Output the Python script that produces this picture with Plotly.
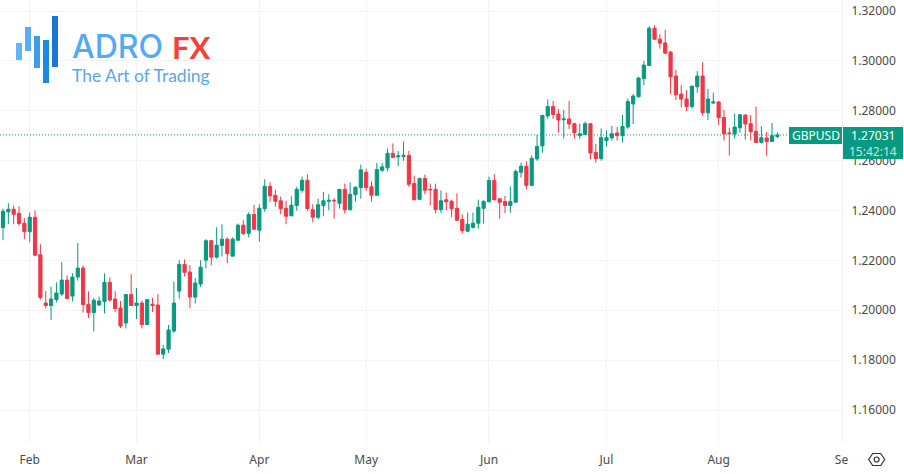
import pandas as pd
import plotly.graph_objects as go

dates = pd.bdate_range("2023-01-25", periods=146)

opens = [
1.2332,1.2395,1.2405,1.2389,1.2349,1.2315,1.2373,1.2223,1.2029,1.2019,1.2043,1.2065,1.2121,1.2057,1.2133,1.2169,1.2024,1.1991,1.2021,1.2035,
1.2112,1.2045,1.2009,1.1949,1.2063,1.2019,1.2029,1.1943,1.2024,1.2021,1.1824,1.1844,1.1917,1.2077,1.2184,1.2153,1.2053,1.2105,1.2201,1.2279,
1.2213,1.2260,1.2285,1.2217,1.2281,1.2341,1.2308,1.2384,1.2321,
1.2407,1.2497,1.2461,1.2439,1.2409,1.2379,1.2420,1.2481,1.2521,1.2403,1.2373,1.2420,1.2437,1.2441,1.2429,1.2485,1.2403,1.2463,1.2492,1.2553,
1.2495,1.2461,1.2561,1.2571,1.2629,1.2615,1.2617,1.2621,1.2508,1.2445,1.2528,1.2485,1.2485,1.2404,1.2443,1.2437,1.2409,1.2364,1.2317,1.2332,
1.2349,1.2409,1.2435,1.2521,1.2447,1.2436,1.2420,1.2433,1.2553,1.2577,1.2501,1.2607,
1.2659,1.2779,1.2817,1.2787,1.2764,1.2767,1.2748,1.2700,1.2705,1.2748,1.2633,1.2608,1.2680,1.2691,1.2711,1.2700,1.2735,1.2827,1.2856,1.2929,
1.2981,1.3131,1.3087,1.3072,1.3035,1.2939,1.2867,1.2847,1.2817,1.2896,1.2939,1.2792,1.2831,1.2835,1.2773,1.2711,1.2707,1.2732,1.2783,1.2748,
1.2717,1.2673,1.2691,1.2677,1.2697]
highs = [
1.2408,1.2429,1.2420,1.2417,1.2369,1.2392,1.2400,1.2265,1.2077,1.2095,1.2112,1.2193,1.2140,1.2149,1.2269,1.2180,1.2076,1.2049,1.2055,1.2148,
1.2132,1.2076,1.2037,1.2064,1.2145,1.2089,1.2039,1.2045,1.2049,1.2065,1.1861,1.1941,1.2115,1.2201,1.2204,1.2181,1.2129,1.2201,1.2285,1.2281,
1.2333,1.2345,1.2292,1.2292,1.2348,1.2361,1.2393,1.2423,1.2425,
1.2525,1.2513,1.2484,1.2456,1.2440,1.2457,1.2495,1.2536,1.2545,1.2425,1.2448,1.2475,1.2465,1.2449,1.2485,1.2508,1.2513,1.2497,1.2584,1.2567,
1.2517,1.2591,1.2591,1.2648,1.2669,1.2639,1.2677,1.2639,1.2540,1.2532,1.2544,1.2508,1.2508,1.2481,1.2472,1.2443,1.2469,1.2384,1.2392,1.2391,
1.2444,1.2441,1.2536,1.2545,1.2448,1.2459,1.2497,1.2564,1.2592,1.2597,1.2621,1.2703,
1.2784,1.2846,1.2839,1.2807,1.2803,1.2840,1.2752,1.2748,1.2757,1.2749,1.2667,1.2729,1.2721,1.2739,1.2735,1.2783,1.2849,1.2867,1.2936,1.3000,
1.3139,1.3143,1.3107,1.3125,1.3040,1.2964,1.2903,1.2883,1.2900,1.2959,1.2995,1.2887,1.2873,1.2839,1.2803,1.2732,1.2789,1.2787,1.2785,1.2783,
1.2817,1.2739,1.2715,1.2751,1.2713]
lows = [
1.2281,1.2345,1.2345,1.2339,1.2285,1.2273,1.2217,1.2043,1.2007,1.1961,1.2031,1.2057,1.2045,1.2035,1.2119,1.1991,1.1969,1.1915,1.2017,1.1987,
1.2035,1.1993,1.1929,1.1927,1.2017,1.1965,1.1927,1.1941,1.1993,1.1823,1.1804,1.1829,1.1909,1.2047,1.2135,1.2009,1.2027,1.2093,1.2168,1.2181,
1.2207,1.2216,1.2189,1.2217,1.2279,1.2301,1.2292,1.2324,1.2275,
1.2395,1.2435,1.2415,1.2385,1.2345,1.2377,1.2399,1.2471,1.2399,1.2353,1.2364,1.2377,1.2401,1.2367,1.2408,1.2387,1.2401,1.2436,1.2447,1.2479,
1.2436,1.2460,1.2555,1.2557,1.2612,1.2577,1.2599,1.2495,1.2441,1.2441,1.2465,1.2420,1.2389,1.2391,1.2401,1.2373,1.2359,1.2308,1.2315,1.2328,
1.2327,1.2347,1.2433,1.2441,1.2367,1.2389,1.2391,1.2431,1.2532,1.2485,1.2497,1.2599,
1.2632,1.2768,1.2768,1.2712,1.2689,1.2727,1.2688,1.2687,1.2704,1.2605,1.2592,1.2600,1.2656,1.2680,1.2681,1.2673,1.2728,1.2747,1.2853,1.2903,
1.2980,1.3085,1.3049,1.3027,1.2868,1.2843,1.2813,1.2799,1.2808,1.2872,1.2780,1.2763,1.2827,1.2743,1.2680,1.2620,1.2688,1.2712,1.2684,1.2681,
1.2671,1.2669,1.2619,1.2675,1.2690]
closes = [
1.2397,1.2405,1.2385,1.2348,1.2315,1.2373,1.2221,1.2051,1.2019,1.2045,1.2069,1.2121,1.2047,1.2133,1.2169,1.2023,1.1991,1.2040,1.2037,1.2112,
1.2041,1.2007,1.1937,1.2063,1.2019,1.2029,1.1943,1.2043,1.2019,1.1824,1.1845,1.1921,1.2029,1.2184,1.2152,1.2053,1.2109,1.2173,1.2279,1.2213,
1.2261,1.2285,1.2227,1.2285,1.2341,1.2308,1.2384,1.2325,1.2409,
1.2497,1.2459,1.2437,1.2407,1.2377,1.2421,1.2485,1.2521,1.2408,1.2373,1.2423,1.2439,1.2441,1.2439,1.2485,1.2403,1.2465,1.2493,1.2563,1.2492,
1.2461,1.2564,1.2575,1.2629,1.2613,1.2619,1.2621,1.2505,1.2443,1.2528,1.2481,1.2483,1.2404,1.2439,1.2435,1.2407,1.2361,1.2319,1.2345,1.2349,
1.2413,1.2436,1.2520,1.2443,1.2433,1.2420,1.2436,1.2557,1.2577,1.2501,1.2609,1.2657,
1.2781,1.2817,1.2785,1.2763,1.2767,1.2747,1.2712,1.2708,1.2748,1.2631,1.2608,1.2692,1.2692,1.2708,1.2700,1.2737,1.2837,1.2859,1.2931,1.2983,
1.3131,1.3087,1.3071,1.3031,1.2936,1.2864,1.2847,1.2817,1.2899,1.2939,1.2792,1.2847,1.2835,1.2772,1.2707,1.2708,1.2735,1.2784,1.2747,1.2716,
1.2673,1.2692,1.2677,1.2700,1.27031]

month_ticks = ["2023-02-01", "2023-03-01", "2023-04-03", "2023-05-01", "2023-06-01", "2023-07-03", "2023-08-01", "2023-09-01"]
month_labels = ["Feb", "Mar", "Apr", "May", "Jun", "Jul", "Aug", "Se"]
last_price = 1.27031
symbol = "GBPUSD"
countdown = "15:42:14"

UP = "#089981"
DOWN = "#F23645"
W, H = 904, 474
PW, PH = 842, 443


def px(x):
    return x / PW


def py(y):
    return 1 - y / PH


def rect(x0, y0, x1, y1, color):
    return dict(type="rect", xref="paper", yref="paper", x0=px(x0), x1=px(x1),
                y0=py(y0), y1=py(y1), fillcolor=color, line_width=0, layer="above")


def label(x, y, text, size, color, family="Noto Sans", anchor="left", weight=400):
    return dict(xref="paper", yref="paper", x=px(x), y=py(y), text=text, showarrow=False,
                xanchor=anchor, yanchor="middle", align=anchor, borderpad=0,
                font=dict(size=size, color=color, family=family, weight=weight))


fig = go.Figure(go.Candlestick(
    x=dates, open=opens, high=highs, low=lows, close=closes, whiskerwidth=0,
    increasing=dict(line=dict(color=UP, width=1), fillcolor=UP),
    decreasing=dict(line=dict(color=DOWN, width=1), fillcolor=DOWN),
    showlegend=False,
))

hex_pts = [(868.7, 459.5), (872.7, 453.5), (880.7, 453.5), (884.7, 459.5), (880.7, 465.5), (872.7, 465.5)]
hex_path = "M " + " L ".join(f"{px(a)},{py(b)}" for a, b in hex_pts) + " Z"

shapes = [
    dict(type="line", xref="paper", yref="y", x0=0, x1=1, y0=last_price, y1=last_price,
         line=dict(color=UP, width=1, dash="1px,2px")),
    rect(16, 43, 22, 60, "#64B5F6"),
    rect(25, 27, 31, 51, "#5AADF4"),
    rect(34, 36, 40, 68, "#3D9BF0"),
    rect(43, 40, 49, 83, "#1E88E5"),
    rect(52, 16, 58, 67, "#1976D2"),
    rect(789, 127, 842, 144, UP),
    rect(843, 127, 903, 159, UP),
    dict(type="path", xref="paper", yref="paper", path=hex_path,
         line=dict(color="#333333", width=1.2), fillcolor="rgba(0,0,0,0)"),
    dict(type="circle", xref="paper", yref="paper", x0=px(874.2), x1=px(879.2),
         y0=py(462), y1=py(457), line=dict(color="#333333", width=1.2)),
]

annotations = [
    label(71, 47, "ADRO", 32, "#55A8F5", "Inter", weight=500),
    label(171, 47, "FX", 31, "#F44336", "Lato", weight=700),
    label(71, 75, "The Art of Trading", 17.5, "#5DA5EC", "Lato"),
    label(815.5, 135.5, symbol, 12, "#FFFFFF", anchor="center"),
    label(873, 135.5, f"{last_price:.5f}", 12, "#FFFFFF", anchor="center"),
    label(873, 151, countdown, 12, "#C6E6E0", anchor="center"),
]

fig.update_layout(
    width=W, height=H, autosize=False,
    margin=dict(l=0, r=W - PW, t=0, b=H - PH, autoexpand=False),
    paper_bgcolor="#FFFFFF", plot_bgcolor="#FFFFFF",
    font=dict(family="Noto Sans", size=12, color="#4A4A4A"),
    shapes=shapes, annotations=annotations, boxgap=0.15,
    xaxis=dict(
        rangeslider_visible=False,
        rangebreaks=[dict(bounds=["sat", "mon"])],
        range=["2023-01-24 10:30", "2023-09-01 02:24"],
        tickmode="array", tickvals=month_ticks, ticktext=month_labels,
        showgrid=True, gridcolor="#F3F3F3", gridwidth=1, ticks="", zeroline=False,
        showline=False, ticklabelstandoff=8,
    ),
    yaxis=dict(
        side="right", range=[1.14678, 1.32441], tick0=1.16, dtick=0.02, tickformat=".5f",
        showgrid=True, gridcolor="#F3F3F3", gridwidth=1, ticks="", ticklabelstandoff=6,
        zeroline=False, showline=True, linecolor="#F0F0F0", linewidth=1,
    ),
)

fig.write_html("out.html", config=dict(displayModeBar=False),
               post_script="document.body.style.margin='0';")
